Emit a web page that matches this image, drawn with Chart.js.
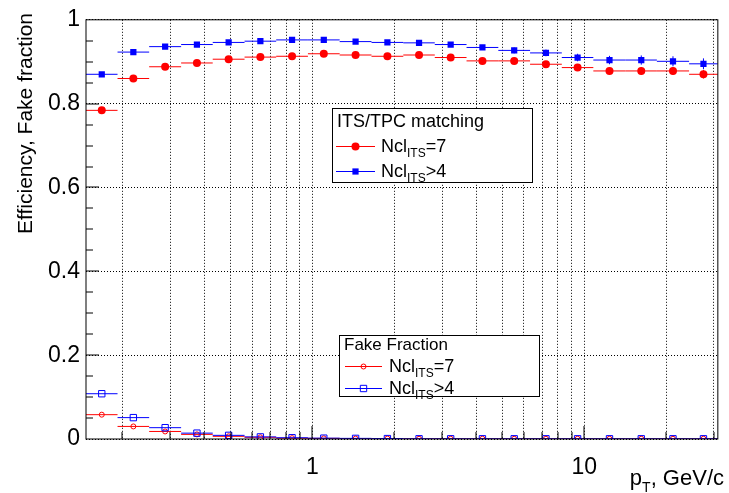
<!DOCTYPE html>
<html>
<head>
<meta charset="utf-8">
<script src="https://cdn.jsdelivr.net/npm/chart.js@4.4.1/dist/chart.umd.min.js"></script>
<style>
  body { margin: 0; background: #fff; }
  #mycanvas { display: block; }
</style>
</head>
<body>
<canvas id="mycanvas" width="729" height="493"></canvas>
<script>
// pT bin edges, GeV/c (20 log bins)
var ptEdges = [0.147, 0.192, 0.251, 0.329, 0.430, 0.563, 0.736, 0.963, 1.26, 1.65, 2.16,
               2.82, 3.69, 4.83, 6.32, 8.27, 10.8, 14.2, 18.5, 24.3, 31.0];

// ITS/TPC matching efficiency
var effNcl7 = [0.784, 0.860, 0.888, 0.897, 0.906, 0.911, 0.913, 0.919, 0.916, 0.913,
               0.916, 0.910, 0.902, 0.902, 0.894, 0.886, 0.878, 0.878, 0.878, 0.870];
var effNcl7Err = [0.003, 0.003, 0.003, 0.003, 0.003, 0.003, 0.003, 0.003, 0.003, 0.004,
                  0.006, 0.006, 0.006, 0.007, 0.007, 0.008, 0.008, 0.009, 0.009, 0.010];
var effNcl4 = [0.870, 0.923, 0.936, 0.941, 0.946, 0.949, 0.952, 0.952, 0.948, 0.946,
               0.945, 0.941, 0.934, 0.927, 0.921, 0.910, 0.904, 0.904, 0.901, 0.895];
var effNcl4Err = [0.002, 0.002, 0.002, 0.002, 0.002, 0.002, 0.002, 0.002, 0.003, 0.003,
                  0.005, 0.005, 0.006, 0.007, 0.008, 0.009, 0.010, 0.011, 0.012, 0.013];

// fake fraction
var fakeNcl7 = [0.058, 0.030, 0.018, 0.011, 0.0064, 0.004, 0.002, 0.0015, 0.001, 0.001,
                0.0005, 0.0005, 0.0005, 0.0005, 0.0005, 0.0005, 0.0005, 0.0005, 0.0005, 0.0005];
var fakeNcl4 = [0.108, 0.051, 0.027, 0.014, 0.0087, 0.005, 0.003, 0.002, 0.0015, 0.001,
                0.0005, 0.0005, 0.0005, 0.0005, 0.0005, 0.0005, 0.0005, 0.0005, 0.0005, 0.0005];

var yTickVals = [0, 0.2, 0.4, 0.6, 0.8, 1];
var xMajorTicks = [1, 10];
var xMinorTicks = [0.2, 0.3, 0.4, 0.5, 0.6, 0.7, 0.8, 0.9, 2, 3, 4, 5, 6, 7, 8, 9, 20, 30];

var RED = '#ff0000', BLUE = '#0000ff';
var FONT = '"Liberation Sans", Arial, Helvetica, sans-serif';

function binCenter(i) { return Math.sqrt(ptEdges[i] * ptEdges[i + 1]); }

// horizontal bin-width bars (+ vertical errors), broken by null points
function barData(vals, errs) {
    var pts = [];
    for (var i = 0; i < vals.length; i++) {
        pts.push({x: ptEdges[i], y: vals[i]}, {x: ptEdges[i + 1], y: vals[i]}, {x: ptEdges[i + 1], y: null});
        if (errs) {
            var c = binCenter(i);
            pts.push({x: c, y: vals[i] - errs[i]}, {x: c, y: vals[i] + errs[i]}, {x: c, y: null});
        }
    }
    return pts;
}
function pointData(vals) {
    return vals.map(function(v, i) { return {x: binCenter(i), y: v}; });
}

function bars(vals, errs, color, order) {
    return { data: barData(vals, errs), showLine: true, spanGaps: false, borderColor: color,
             borderWidth: 1, pointRadius: 0, tension: 0, order: order };
}
function markers(vals, color, style, radius, filled, order) {
    return { data: pointData(vals), showLine: false, pointStyle: style, pointRadius: radius,
             pointBackgroundColor: filled ? color : 'rgba(0,0,0,0)', pointBorderColor: color,
             pointBorderWidth: filled ? 0 : 1, order: order };
}

function drawMarker(ctx, x, y, color, style, r, filled) {
    ctx.beginPath();
    if (style === 'rect') {
        var s = r * Math.SQRT1_2;
        ctx.rect(x - s, y - s, 2 * s, 2 * s);
    } else {
        ctx.arc(x, y, r, 0, Math.PI * 2);
    }
    if (filled) { ctx.fillStyle = color; ctx.fill(); }
    else { ctx.strokeStyle = color; ctx.lineWidth = 1; ctx.stroke(); }
}

function drawNcl(ctx, x, y, rest) {
    ctx.fillStyle = '#000';
    ctx.textAlign = 'left';
    ctx.textBaseline = 'alphabetic';
    ctx.font = '18px ' + FONT;
    ctx.fillText('Ncl', x, y);
    x += ctx.measureText('Ncl').width;
    ctx.font = '12px ' + FONT;
    ctx.fillText('ITS', x, y + 5);
    x += ctx.measureText('ITS').width;
    ctx.font = '18px ' + FONT;
    ctx.fillText(rest, x, y);
}

function drawLegend(ctx, box, title, titleSize, entries) {
    ctx.fillStyle = '#fff';
    ctx.fillRect(box.x, box.y, box.w, box.h);
    ctx.strokeStyle = '#000';
    ctx.lineWidth = 1;
    ctx.strokeRect(box.x + 0.5, box.y + 0.5, box.w, box.h);
    ctx.fillStyle = '#000';
    ctx.font = titleSize + 'px ' + FONT;
    ctx.textAlign = 'left';
    ctx.textBaseline = 'alphabetic';
    ctx.fillText(title, box.titleX, box.titleY);
    entries.forEach(function(e) {
        ctx.strokeStyle = e.color;
        ctx.beginPath();
        ctx.moveTo(box.lineX0, e.y + 0.5);
        ctx.lineTo(box.lineX1, e.y + 0.5);
        ctx.stroke();
        drawMarker(ctx, (box.lineX0 + box.lineX1) / 2, e.y + 0.5, e.color, e.style, e.r, e.filled);
        drawNcl(ctx, box.textX, e.y + 6, e.label);
    });
}

var rootFrame = {
    id: 'rootFrame',
    afterDraw: function(chart) {
        var ctx = chart.ctx, a = chart.chartArea;
        var xs = chart.scales.x, ys = chart.scales.y;
        ctx.save();
        ctx.strokeStyle = '#000';
        ctx.lineWidth = 1;
        ctx.beginPath();
        xMajorTicks.forEach(function(v) {
            var px = Math.round(xs.getPixelForValue(v));
            ctx.moveTo(px, a.bottom); ctx.lineTo(px, a.bottom - 13);
        });
        xMinorTicks.forEach(function(v) {
            var px = Math.round(xs.getPixelForValue(v));
            ctx.moveTo(px, a.bottom); ctx.lineTo(px, a.bottom - 7);
        });
        for (var k = 1; k < 20; k++) {
            var v = k * 0.05;
            var py = Math.round(ys.getPixelForValue(v));
            ctx.moveTo(a.left, py); ctx.lineTo(a.left + (k % 4 === 0 ? 13 : 7), py);
        }
        ctx.stroke();
        ctx.strokeRect(a.left, a.top, a.right - a.left, a.bottom - a.top);

        // axis titles
        ctx.fillStyle = '#000';
        ctx.textBaseline = 'alphabetic';
        ctx.font = '22px ' + FONT;
        var wP = ctx.measureText('p').width;
        var wRest = ctx.measureText(', GeV/c').width;
        ctx.font = '14px ' + FONT;
        var wT = ctx.measureText('T').width;
        var x0 = 724 - (wP + wT + wRest);
        ctx.textAlign = 'left';
        ctx.font = '22px ' + FONT;
        ctx.fillText('p', x0, 485);
        ctx.font = '14px ' + FONT;
        ctx.fillText('T', x0 + wP, 492);
        ctx.font = '22px ' + FONT;
        ctx.fillText(', GeV/c', x0 + wP + wT, 485);

        ctx.save();
        ctx.translate(32, 13);
        ctx.rotate(-Math.PI / 2);
        ctx.textAlign = 'right';
        ctx.font = '21px ' + FONT;
        ctx.fillText('Efficiency, Fake fraction', 0, 0);
        ctx.restore();

        drawLegend(ctx, {x: 332, y: 108, w: 200, h: 74, titleX: 337, titleY: 127,
                         lineX0: 336, lineX1: 375, textX: 381}, 'ITS/TPC matching', 18, [
            {y: 146, color: RED, style: 'circle', r: 4, filled: true, label: '=7'},
            {y: 171, color: BLUE, style: 'rect', r: 4.4, filled: true, label: '>4'}
        ]);
        drawLegend(ctx, {x: 339, y: 335, w: 200, h: 61, titleX: 344, titleY: 350,
                         lineX0: 345, lineX1: 382, textX: 389}, 'Fake Fraction', 17, [
            {y: 366, color: RED, style: 'circle', r: 2.5, filled: false, label: '=7'},
            {y: 388, color: BLUE, style: 'rect', r: 4.5, filled: false, label: '>4'}
        ]);
        ctx.restore();
    }
};

var ctx = document.getElementById('mycanvas');
var chart = new Chart(ctx, {
    type: 'scatter',
    data: {
        datasets: [
            markers(fakeNcl4, BLUE, 'rect', 4.5, false, 0),
            bars(fakeNcl4, null, BLUE, 1),
            markers(fakeNcl7, RED, 'circle', 2.5, false, 2),
            bars(fakeNcl7, null, RED, 3),
            markers(effNcl4, BLUE, 'rect', 4.4, true, 4),
            bars(effNcl4, effNcl4Err, BLUE, 5),
            markers(effNcl7, RED, 'circle', 4, true, 6),
            bars(effNcl7, effNcl7Err, RED, 7)
        ]
    },
    options: {
        responsive: false,
        devicePixelRatio: 1,
        animation: false,
        layout: { padding: { top: 16, right: 6, left: 0, bottom: 0 } },
        plugins: { legend: { display: false }, tooltip: { enabled: false } },
        scales: {
            x: {
                type: 'logarithmic',
                min: ptEdges[0],
                max: ptEdges[ptEdges.length - 1],
                afterBuildTicks: function(scale) {
                    scale.ticks = xMinorTicks.concat(xMajorTicks).sort(function(a, b) { return a - b; })
                        .map(function(v) { return {value: v}; });
                },
                afterFit: function(scale) { scale.height = 54; },
                ticks: {
                    autoSkip: false, maxRotation: 0, padding: 15, color: '#000',
                    font: { family: FONT, size: 23 },
                    callback: function(v) { return xMajorTicks.indexOf(v) >= 0 ? String(v) : ''; }
                },
                grid: { color: '#000', lineWidth: 1, drawTicks: false },
                border: { display: false, dash: [1, 2] }
            },
            y: {
                min: 0, max: 1,
                afterBuildTicks: function(scale) {
                    scale.ticks = yTickVals.map(function(v) { return {value: v}; });
                },
                afterFit: function(scale) { scale.width = 86; },
                ticks: {
                    padding: 6, color: '#000',
                    font: { family: FONT, size: 23 },
                    callback: function(v) { return String(+v.toFixed(1)); }
                },
                grid: { color: '#000', lineWidth: 1, drawTicks: false },
                border: { display: false, dash: [1, 2] }
            }
        }
    },
    plugins: [rootFrame]
});
</script>
</body>
</html>
